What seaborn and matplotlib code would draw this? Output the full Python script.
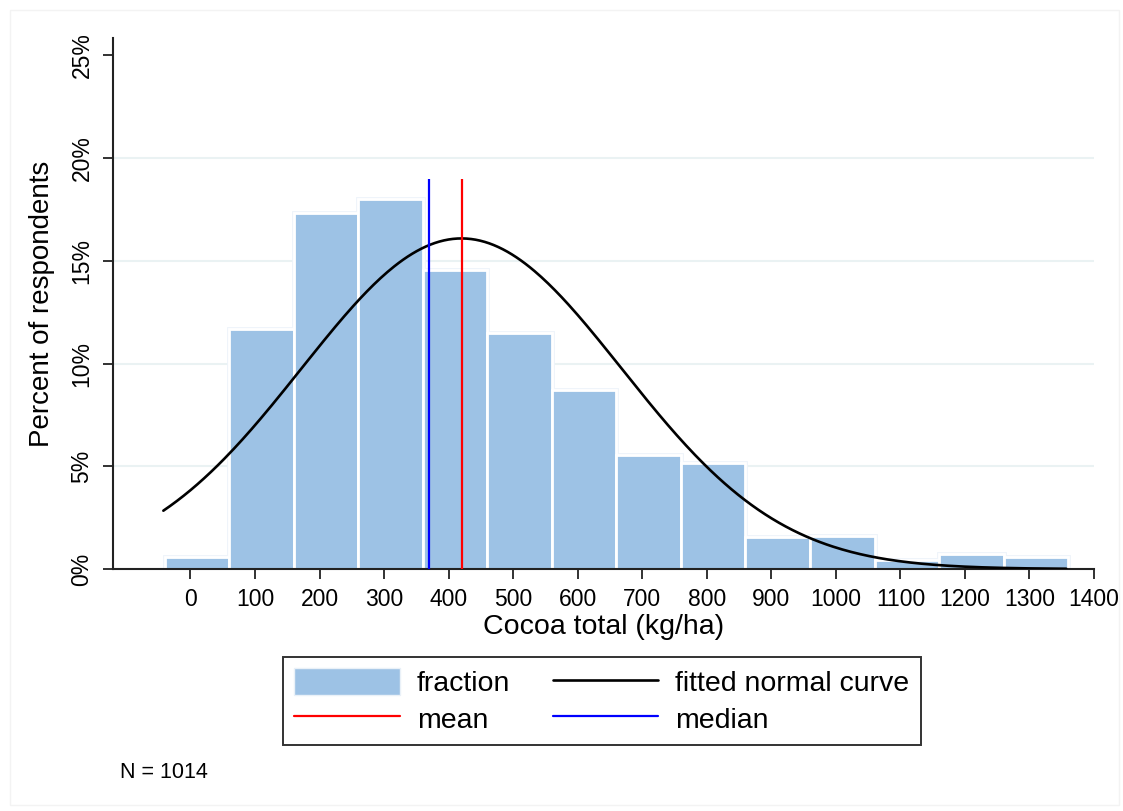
import numpy as np
import pandas as pd
import matplotlib
matplotlib.use("Agg")
import matplotlib.pyplot as plt
import seaborn as sns
from matplotlib.patches import Patch, Rectangle
from matplotlib.lines import Line2D

sns.set_theme(style="white")
plt.rcParams['font.family'] = ['Liberation Sans', 'DejaVu Sans']
plt.rcParams['text.color'] = 'black'
plt.rcParams['axes.labelcolor'] = 'black'
plt.rcParams['xtick.color'] = 'black'
plt.rcParams['ytick.color'] = 'black'

# ==================================================
# DATOS
# ==================================================
bin_edges = [-40, 60, 160, 260, 360, 460, 560, 660, 760, 860, 960, 1060, 1160, 1260, 1360]
bin_centers = [10, 110, 210, 310, 410, 510, 610, 710, 810, 910, 1010, 1110, 1210, 1310]
percent = [0.57, 11.66, 17.31, 17.99, 14.55, 11.47, 8.71, 5.56, 5.16, 1.54, 1.62, 0.45, 0.75, 0.56]

mean_val = 420
median_val = 369
sd_val = 248
bin_width = 100
x_min, x_max = -42, 1357
n_obs = 1014

x_ticks = [0, 100, 200, 300, 400, 500, 600, 700, 800, 900, 1000, 1100, 1200, 1300, 1400]
y_ticks = [0, 5, 10, 15, 20, 25]
y_tick_labels = ["0%", "5%", "10%", "15%", "20%", "25%"]
grid_levels = [5, 10, 15, 20]

BAR_COLOR = "#9DC2E5"

# ==================================================
# FIGURA
# ==================================================
fig = plt.figure(figsize=(11.23, 8.11), dpi=100)
ax = fig.add_axes([113 / 1123, 1 - 569 / 811, (1094 - 113) / 1123, (569 - 38) / 811])

ax.hlines(grid_levels, -120, 1400, color="#EAF2F3", lw=1.5, zorder=0)

# Halo claro alrededor de las barras (estilo Stata)
hist_df = pd.DataFrame({"x": bin_centers, "pct": percent})
sns.histplot(data=hist_df, x="x", weights="pct", bins=bin_edges, stat="count",
             color=BAR_COLOR, alpha=1, edgecolor="#EEF4FA", linewidth=3.5, ax=ax, zorder=1)
sns.histplot(data=hist_df, x="x", weights="pct", bins=bin_edges, stat="count",
             color=BAR_COLOR, alpha=1, edgecolor="white", linewidth=2, ax=ax, zorder=2)

# Curva normal ajustada
xs = np.linspace(x_min, x_max, 400)
ys = 100 * bin_width / (sd_val * np.sqrt(2 * np.pi)) * np.exp(-0.5 * ((xs - mean_val) / sd_val) ** 2)
sns.lineplot(x=xs, y=ys, color="black", lw=1.9, ax=ax, zorder=4)

ax.vlines([mean_val], 0, 19, color="#FF0000", lw=1.6, zorder=5)
ax.vlines([median_val], 0, 19, color="#0000FF", lw=1.6, zorder=5)

ax.set_xlim(-120, 1400)
ax.set_ylim(0, 25.84)
ax.set_xticks(x_ticks)
ax.set_xticklabels([str(t) for t in x_ticks])
ax.set_yticks(y_ticks)
ax.set_yticklabels(y_tick_labels, rotation=90, va="center")
ax.set_ylabel("")

for s in ["top", "right"]:
    ax.spines[s].set_visible(False)
for s in ["left", "bottom"]:
    ax.spines[s].set_color("#222222")
    ax.spines[s].set_linewidth(1.5)

ax.tick_params(axis="both", which="major", direction="out", length=7, width=1.3,
               color="#222222", labelsize=16.5, pad=7, bottom=True, left=True)

ax.set_xlabel("Cocoa total (kg/ha)", fontsize=20.5, labelpad=2)
ax.set_ylabel("Percent of respondents", fontsize=20, labelpad=11)

# Leyenda
handles = [
    Patch(facecolor=BAR_COLOR, edgecolor="#EAF1F8"),
    Line2D([], [], color="#FF0000", lw=1.6),
    Line2D([], [], color="black", lw=1.9),
    Line2D([], [], color="#0000FF", lw=1.6),
]
labels = ["fraction", "mean", "fitted normal curve", "median"]
leg = fig.legend(handles, labels, ncol=2, loc="center",
                 bbox_to_anchor=((282 + 922) / 2 / 1123, 1 - 701 / 811),
                 fontsize=20.5, frameon=True, fancybox=False, edgecolor="black",
                 handlelength=3.7, handleheight=1.1, handletextpad=0.6,
                 columnspacing=1.5, labelspacing=0.25, borderpad=0.4)
leg.get_frame().set_linewidth(1.4)

fig.text(120 / 1123, 1 - 772 / 811, f"N = {n_obs}", fontsize=15.5, va="center", ha="left")

# Marco tenue del gráfico
fig.patches.append(Rectangle((9.5 / 1123, 6 / 811), (1119 - 9.5) / 1123, (801 - 6) / 811,
                             transform=fig.transFigure, fill=False, edgecolor="#F3F3F3", lw=1))

fig.savefig("out.png", dpi=100)
